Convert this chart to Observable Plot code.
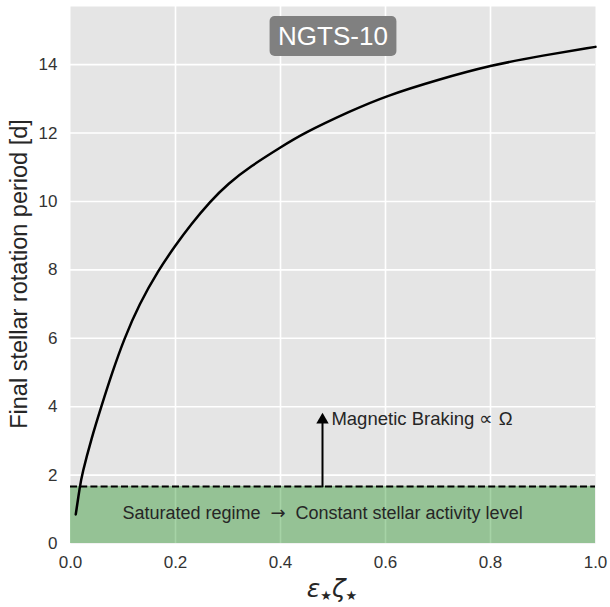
<!DOCTYPE html>
<html><head><meta charset="utf-8">
<script src="https://cdn.jsdelivr.net/npm/d3@7"></script>
<script src="https://cdn.jsdelivr.net/npm/@observablehq/plot@0.6"></script>
<style>body{margin:0;background:#fff;} #chart{width:610px;height:607px;}</style>
</head><body><div id="chart"></div>
<script>
// ---- data ----
const curveX = [0.010, 0.018, 0.022, 0.040, 0.059, 0.079, 0.102, 0.131, 0.167, 0.200, 0.229, 0.266, 0.300, 0.343, 0.400, 0.442, 0.534, 0.600, 0.700, 0.800, 0.900, 1.000];
const curveY = [0.85, 1.68, 2.02, 3.08, 4.02, 4.98, 5.98, 7.00, 7.98, 8.72, 9.32, 10.00, 10.52, 11.03, 11.58, 11.98, 12.65, 13.08, 13.56, 13.98, 14.27, 14.52];
const xTicks = [0, 0.2, 0.4, 0.6, 0.8, 1.0];
const yTicks = [0, 2, 4, 6, 8, 10, 12, 14];
const xDomain = [0, 1];
const yDomain = [0, 15.7];
const satPeriod = 1.67;
const arrowX = 0.48;
const arrowTop = 3.82;
const brakingLabel = {x: 0.497, y: 3.65, text: "Magnetic Braking \u221D \u03A9"};
const satParts = ["Saturated regime  ", "\u2192", "  Constant stellar activity level"];
const satLabel = {x: 0.48, y: 0.89, text: satParts.join("")};
const titleLabel = {x: 0.5, y: 14.82, text: "NGTS-10"};
const yLabel = "Final stellar rotation period [d]";

const curve = curveX.map((x, i) => ({x, y: curveY[i]}));
const band = [{x1: xDomain[0], x2: xDomain[1], y1: yDomain[0], y2: satPeriod}];
const arrow = [{x: arrowX, y1: satPeriod, y2: arrowTop}];
const inner = (t, d) => t.filter(v => v > d[0] && v < d[1]);
const SANS = "'Liberation Sans', Arial, sans-serif";

const chart = Plot.plot({
  width: 610, height: 607,
  marginLeft: 70, marginRight: 15, marginTop: 6, marginBottom: 64,
  style: {fontFamily: SANS, fontSize: "17px", color: "#333", background: "white", overflow: "visible"},
  x: {domain: xDomain, ticks: xTicks, tickFormat: d3.format(".1f"), tickSize: 0, tickPadding: 12, label: null},
  y: {domain: yDomain, ticks: yTicks, tickSize: 0, tickPadding: 13, label: null},
  marks: [
    Plot.frame({fill: "#e5e5e5", stroke: null}),
    Plot.ruleX(inner(xTicks, xDomain), {stroke: "white", strokeWidth: 1.6}),
    Plot.ruleY(inner(yTicks, yDomain), {stroke: "white", strokeWidth: 1.6}),
    Plot.rect(band, {x1: "x1", x2: "x2", y1: "y1", y2: "y2", fill: "green", fillOpacity: 0.35}),
    Plot.ruleY([satPeriod], {stroke: "black", strokeWidth: 2, strokeDasharray: "7,3.2"}),
    Plot.line(curve, {x: "x", y: "y", curve: "basis", stroke: "black", strokeWidth: 2.5}),
    Plot.arrow(arrow, {x1: "x", x2: "x", y1: "y1", y2: "y2", stroke: "black", strokeWidth: 2, headLength: 0, insetEnd: 7}),
    Plot.dot(arrow, {x: "x", y: "y2", symbol: "triangle", r: 4.6, fill: "black", stroke: null, dy: 7}),
    Plot.text([brakingLabel], {x: "x", y: "y", text: "text", textAnchor: "start", fontSize: 18.5, fill: "#262626"}),
    Plot.text([satLabel], {x: "x", y: "y", text: "text", fontSize: 18, fill: "#262626"}),
    Plot.text([titleLabel], {x: "x", y: "y", text: "text", fontSize: 26, fill: "white"})
  ]
});
document.getElementById("chart").appendChild(chart);

const svg = d3.select(chart);
const NS = "http://www.w3.org/2000/svg";

// saturated label: arrow glyph in DejaVu Sans
svg.selectAll("text").filter(function() { return this.textContent === satLabel.text; }).each(function() {
  const t = d3.select(this);
  t.text(null);
  satParts.forEach((p, i) => {
    const ts = t.append("tspan").text(p);
    if (i === 1) ts.attr("font-family", "'DejaVu Sans', sans-serif");
  });
  t.attr("xml:space", "preserve").style("white-space", "pre");
});

// rounded box behind the title
const sb = chart.getBoundingClientRect();
svg.selectAll("text").filter(function() { return this.textContent === titleLabel.text; }).each(function() {
  const b = this.getBoundingClientRect();
  const g = this.parentNode;
  const w = b.width + 17, h = 40;
  const cx = b.left - sb.left + b.width / 2, cy = b.top - sb.top + b.height / 2;
  const r = document.createElementNS(NS, "rect");
  r.setAttribute("x", cx - w / 2);
  r.setAttribute("y", cy - h / 2);
  r.setAttribute("width", w);
  r.setAttribute("height", h);
  r.setAttribute("rx", 5);
  r.setAttribute("fill", "#808080");
  g.parentNode.insertBefore(r, g);
});

// axis labels
svg.append("text")
  .attr("transform", "translate(27,274) rotate(-90)")
  .attr("text-anchor", "middle")
  .attr("font-family", SANS)
  .attr("font-size", 23.5).attr("fill", "#262626")
  .text(yLabel);

const xl = svg.append("text")
  .attr("x", 332).attr("y", 597)
  .attr("text-anchor", "middle")
  .attr("font-family", "'DejaVu Sans', sans-serif")
  .attr("font-size", 25).attr("fill", "#262626");
xl.append("tspan").attr("font-style", "italic").text("\u03B5");
xl.append("tspan").attr("font-size", 13).attr("dy", 3).text("\u2605");
xl.append("tspan").attr("font-style", "italic").attr("dy", -3).text("\u03B6");
xl.append("tspan").attr("font-size", 13).attr("dy", 3).text("\u2605");
</script>
</body></html>
